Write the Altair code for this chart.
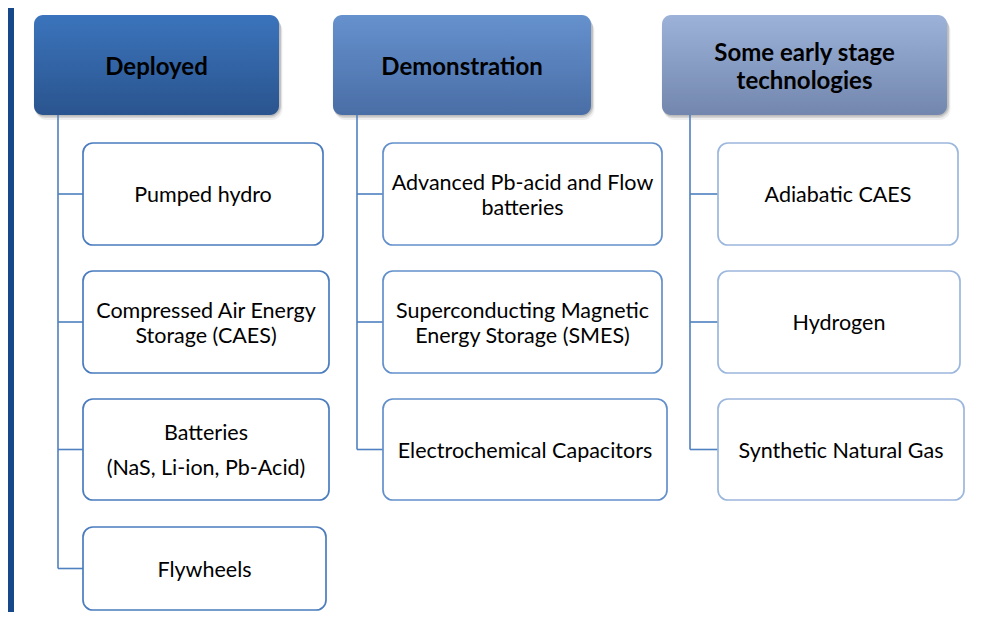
import altair as alt
import pandas as pd

# ---------------- content ----------------
headers = ["Deployed", "Demonstration", "Some early stage\ntechnologies"]
deployed = ["Pumped hydro", "Compressed Air Energy\nStorage (CAES)",
            "Batteries\n(NaS, Li-ion, Pb-Acid)", "Flywheels"]
demonstration = ["Advanced Pb-acid and Flow\nbatteries",
                 "Superconducting Magnetic\nEnergy Storage  (SMES)",
                 "Electrochemical Capacitors"]
early_stage = ["Adiabatic CAES", "Hydrogen", "Synthetic Natural Gas"]
columns = [deployed, demonstration, early_stage]

# ---------------- layout (page pixels) ----------------
MARGIN = 8
VIEW_X1, VIEW_Y1 = 980, 612          # visible page area inside the body margin
PANEL = (14, 8, 988, 623)
HEAD_X0 = [34, 333, 662]
HEAD_X1 = [279, 591, 947]
HEAD_Y0, HEAD_Y1 = 15, 115
TRUNK_X = [58, 357, 690]
BOX_X0 = [83, 383, 718]
BOX_X1 = [[323, 329, 329, 326], [662, 662, 667], [958, 960, 964]]
ROW_Y0 = [143, 271, 399, 527]
ROW_Y1 = [245, 373, 500, 610]
LINE_GAP = {"Batteries\n(NaS, Li-ion, Pb-Acid)": 35}
DEFAULT_GAP = 25
HEAD_GAP = 28
HEAD_FILLS = [("#3b74bc", "#2a548e"), ("#6591cd", "#4a6ea6"), ("#9cb2d9", "#7387ae")]
BOX_STROKE = ["#4a7cbe", "#6390cb", "#9cb7dd"]
LINE_COLOR = "#4f80c0"
FONT = "Lato"

xs = alt.Scale(domain=[MARGIN, VIEW_X1], zero=False, nice=False)
ys = alt.Scale(domain=[MARGIN, VIEW_Y1], zero=False, nice=False, reverse=True)
X = lambda f="x": alt.X(f"{f}:Q", scale=xs, axis=None)
Y = lambda f="y": alt.Y(f"{f}:Q", scale=ys, axis=None)

# ---------------- tables ----------------
panel_df = pd.DataFrame([{"x": PANEL[0], "x2": VIEW_X1, "y": PANEL[1], "y2": VIEW_Y1}])

boxes, branches, trunks, box_lines, head_lines = [], [], [], [], []
for c, items in enumerate(columns):
    centers = []
    for r, label in enumerate(items):
        y0, y1 = ROW_Y0[r], ROW_Y1[r]
        cy = (y0 + y1) / 2
        centers.append(cy)
        x0, x1 = BOX_X0[c], BOX_X1[c][r]
        boxes.append({"x": x0, "x2": x1, "y": y0, "y2": y1, "stroke": BOX_STROKE[c]})
        branches.append({"x": TRUNK_X[c], "x2": x0, "y": cy})
        parts = label.split("\n")
        gap = LINE_GAP.get(label, DEFAULT_GAP)
        for i, p in enumerate(parts):
            box_lines.append({"x": (x0 + x1) / 2,
                              "y": cy + (i - (len(parts) - 1) / 2) * gap,
                              "text": p})
    trunks.append({"x": TRUNK_X[c], "y": HEAD_Y1, "y2": centers[-1]})
    hparts = headers[c].split("\n")
    hcy = (HEAD_Y0 + HEAD_Y1) / 2
    for i, p in enumerate(hparts):
        head_lines.append({"x": (HEAD_X0[c] + HEAD_X1[c]) / 2,
                           "y": hcy + (i - (len(hparts) - 1) / 2) * HEAD_GAP,
                           "text": p})

boxes_df = pd.DataFrame(boxes)
branches_df = pd.DataFrame(branches)
trunks_df = pd.DataFrame(trunks)
box_text_df = pd.DataFrame(box_lines)
head_text_df = pd.DataFrame(head_lines)

# ---------------- layers ----------------
panel = alt.Chart(panel_df).mark_rect(color="white").encode(
    x=X(), x2="x2:Q", y=Y(), y2="y2:Q")

layers = [panel]
for c in range(3):
    hdf = pd.DataFrame([{"x": HEAD_X0[c], "x2": HEAD_X1[c], "y": HEAD_Y0, "y2": HEAD_Y1}])
    for off, op in [(5, 0.06), (3, 0.10), (1.5, 0.12)]:
        sdf = pd.DataFrame([{"x": HEAD_X0[c] - 1 + off / 2, "x2": HEAD_X1[c] + off / 2 + 1,
                             "y": HEAD_Y0 + off, "y2": HEAD_Y1 + off}])
        layers.append(alt.Chart(sdf).mark_rect(color="#000000", opacity=op, cornerRadius=11).encode(
            x=X(), x2="x2:Q", y=Y(), y2="y2:Q"))
    top, bot = HEAD_FILLS[c]
    layers.append(alt.Chart(hdf).mark_rect(
        cornerRadius=9,
        color=alt.Gradient(gradient="linear", x1=0, x2=0, y1=0, y2=1,
                           stops=[alt.GradientStop(color=top, offset=0),
                                  alt.GradientStop(color=bot, offset=1)])
    ).encode(x=X(), x2="x2:Q", y=Y(), y2="y2:Q"))

head_text = alt.Chart(head_text_df).mark_text(
    font=FONT, fontSize=24, fontWeight="bold", color="#000000", align="center",
    baseline="middle", dy=2.5
).encode(x=X(), y=Y(), text="text:N")

trunk_rules = alt.Chart(trunks_df).mark_rule(color=LINE_COLOR, strokeWidth=1.6).encode(
    x=X(), y=Y(), y2="y2:Q")
branch_rules = alt.Chart(branches_df).mark_rule(color=LINE_COLOR, strokeWidth=1.6).encode(
    x=X(), x2="x2:Q", y=Y())

box_rects = alt.Chart(boxes_df).mark_rect(fill="white", strokeWidth=1.7, cornerRadius=10).encode(
    x=X(), x2="x2:Q", y=Y(), y2="y2:Q", stroke=alt.Stroke("stroke:N", scale=None))

box_text = alt.Chart(box_text_df).mark_text(
    font=FONT, fontSize=21.5, color="#000000", align="center", baseline="middle", dy=2
).encode(x=X(), y=Y(), text="text:N")

chart = alt.layer(*layers, head_text, trunk_rules, branch_rules, box_rects, box_text).properties(
    width=VIEW_X1 - MARGIN, height=VIEW_Y1 - MARGIN,
    autosize=alt.AutoSizeParams(type="none"), padding=0,
).configure(background="#17498a").configure_view(stroke=None)

chart.save("out.html", embed_options={"renderer": "svg", "actions": False})
